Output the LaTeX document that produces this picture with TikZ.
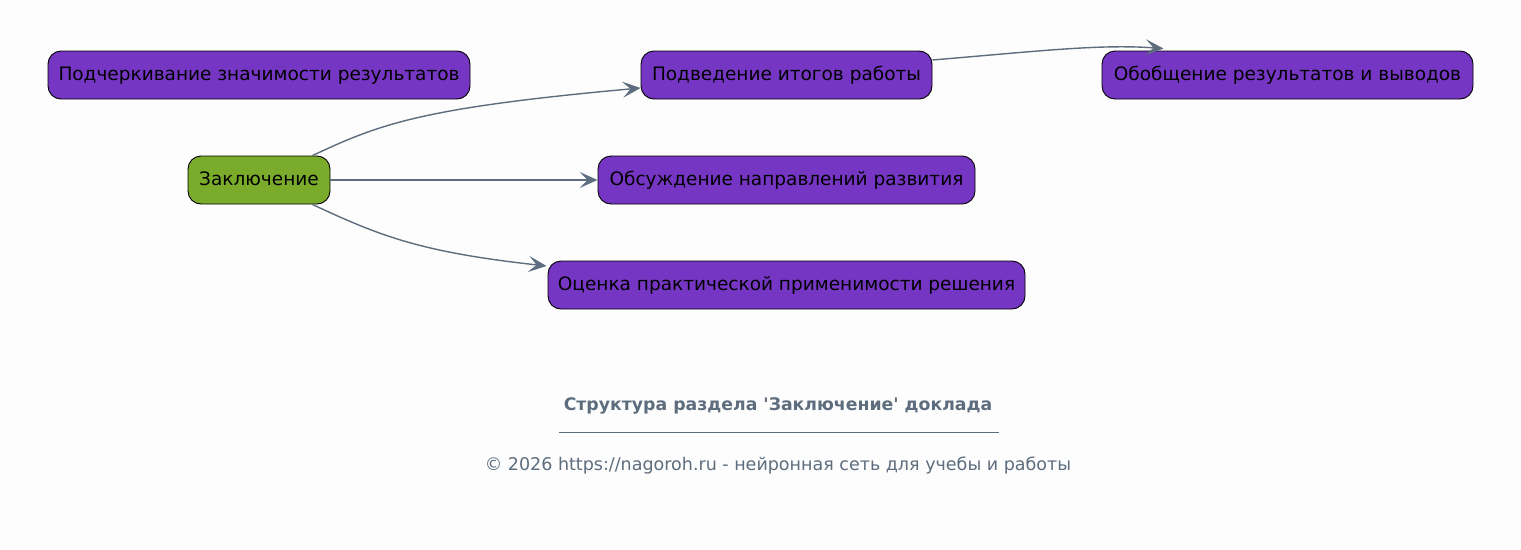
\documentclass[tikz,border=0pt]{standalone}
\usepackage{fontspec}
\setmainfont{DejaVu Sans}
\usetikzlibrary{arrows.meta}
\definecolor{bgc}{HTML}{FDFDFD}
\definecolor{purp}{HTML}{7636C4}
\definecolor{grn}{HTML}{7AAB2B}
\definecolor{edgec}{HTML}{5D6D7E}
\tikzset{
  box/.style={draw=black, line width=0.9pt, rounded corners=13pt, minimum height=48pt, inner xsep=0pt, inner ysep=0pt, text height=14pt, text depth=4pt, font=\fontsize{18.5}{21}\selectfont, text=black},
  pbox/.style={box, fill=purp},
  gbox/.style={box, fill=grn},
  conn/.style={draw=edgec, line width=1.4pt, -{Stealth[length=18pt,width=16pt,inset=8pt]}},
}
\begin{document}
\begin{tikzpicture}[x=1pt,y=-1pt]
\useasboundingbox[fill=bgc] (0,0) rectangle (1521,549);
\node[pbox, minimum width=422pt] (emp) at (259,75) {Подчеркивание значимости результатов};
\node[pbox, minimum width=291pt] (pod) at (786.5,75) {Подведение итогов работы};
\node[pbox, minimum width=371pt] (obob) at (1287.5,75) {Обобщение результатов и выводов};
\node[gbox, minimum width=142pt] (zak) at (259,180) {Заключение};
\node[pbox, minimum width=377pt] (obs) at (786.5,180) {Обсуждение направлений развития};
\node[pbox, minimum width=477pt] (ots) at (786.5,285) {Оценка практической применимости решения};
\draw[conn] ([xshift=-18pt]zak.north east) .. controls (380,124) and (420,108) .. ([yshift=-13pt]pod.west);
\draw[conn] (zak.east) -- (obs.west);
\draw[conn] ([xshift=-18pt]zak.south east) .. controls (380,236) and (420,252) .. ([xshift=-1pt,yshift=19pt]ots.west);
\draw[conn] ([yshift=15pt]pod.east) .. controls (1040,51) and (1100,44) .. ([xshift=-124pt,yshift=2pt]obob.north);
\node[font=\bfseries\fontsize{17.3}{20}\selectfont, text=edgec] (title) at (778,406) {Структура раздела \textquotesingle Заключение\textquotesingle{} доклада};
\coordinate (la) at (559,432.5);
\coordinate (lb) at (999,432.5);
\draw[edgec, line width=0.7pt] (la) -- (lb);
\node[font=\fontsize{17.5}{20}\selectfont, text=edgec] (copy) at (778,466) {© 2026 https://nagoroh.ru - нейронная сеть для учебы и работы};
\end{tikzpicture}
\end{document}
